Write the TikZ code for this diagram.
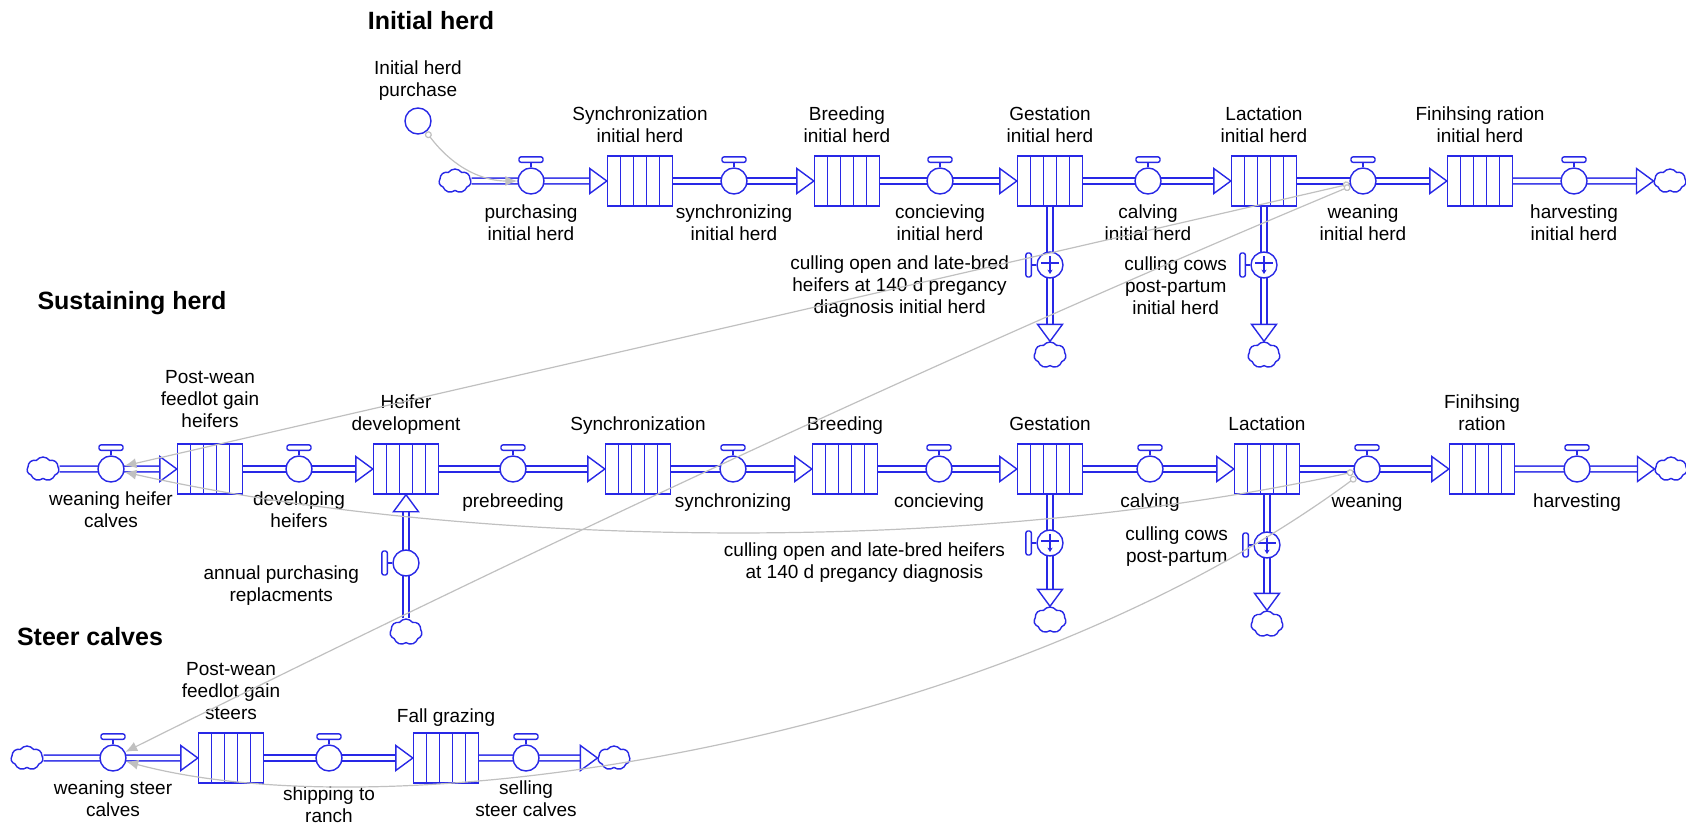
\documentclass[tikz,border=0pt]{standalone}
\usepackage{fontspec}
\setmainfont{Liberation Sans}
\usetikzlibrary{
  arrows.meta, % for the link arrow tips
  positioning, % for relative node positioning
  shapes.symbols, % for the cloud shape
}
\definecolor{flow-blue}{RGB}{40, 40, 230}
\definecolor{link-gray}{RGB}{192, 192, 192}

% hollow head of a flow pipe: anchor, rotation
\newcommand{\flowtip}[2]{%
  \draw[flow-blue, line width=0.7pt, fill=white, shift={(#1)}, rotate=#2]
    (0,0) -- (-17,12.5) -- (-17,-12.5) -- cycle;%
}
% flow pipe: from, to (anchor), rotation of the head
\newcommand{\flowpipe}[3]{%
  \draw[pipe] (#1) -- (#2);
  \flowtip{#2}{#3}%
}
% valve handles, above or left of a valve
\newcommand{\tophandle}[1]{%
  \draw[flow-blue, line width=0.7pt] (#1.north) -- ([yshift=2.5pt]#1.north);
  \draw[flow-blue, line width=0.7pt, fill=white, rounded corners=1pt]
    ([xshift=-6pt, yshift=2.5pt]#1.north) rectangle ([xshift=6pt, yshift=5.2pt]#1.north);%
}
\newcommand{\sidehandle}[1]{%
  \draw[flow-blue, line width=0.7pt] (#1.west) -- ([xshift=-2.5pt]#1.west);
  \draw[flow-blue, line width=0.7pt, fill=white, rounded corners=1pt]
    ([xshift=-5.2pt, yshift=-6pt]#1.west) rectangle ([xshift=-2.5pt, yshift=6pt]#1.west);%
}
% outflow mark inside a culling valve
\newcommand{\cullmark}[1]{%
  \draw[flow-blue, line width=0.6pt] ([xshift=-4.5pt, yshift=1pt]#1.center) -- ([xshift=4.5pt, yshift=1pt]#1.center);
  \draw[flow-blue, line width=0.6pt, -{Stealth[length=2.2pt, width=2.6pt]}] ([yshift=4.5pt]#1.center) -- ([yshift=-4.5pt]#1.center);%
}

\begin{document}
\begin{tikzpicture}[%
  x=0.5pt, y=-0.5pt,%
  font=\fontsize{9.5}{11}\selectfont,%
  stock/.style={draw=flow-blue, fill=white, line width=0.7pt, minimum width=32.5pt, minimum height=25pt, inner sep=0pt,%
    path picture={\foreach \k in {1,...,4} \draw[flow-blue, line width=0.7pt] ([xshift=\k*6.5pt]path picture bounding box.south west) -- ([xshift=\k*6.5pt]path picture bounding box.north west);}},%
  valve/.style={circle, draw=flow-blue, fill=white, line width=0.7pt, minimum size=13pt, inner sep=0pt},%
  aux/.style={circle, draw=flow-blue, line width=0.7pt, minimum size=13pt, inner sep=0pt},%
  source/.style={cloud, cloud puffs=7, cloud puff arc=110, aspect=1.4, draw=flow-blue, fill=white, line width=0.7pt, minimum width=16pt, minimum height=12pt, inner sep=0pt},%
  sink/.style={source, aspect=1.2, minimum width=16pt, minimum height=13pt},%
  pipe/.style={draw=flow-blue, line width=0.7pt, double=white, double distance=2.2pt, shorten >=6pt},%
  link/.style={draw=link-gray, line width=0.6pt, {Circle[fill=white, length=3.5pt, width=3.5pt]}-{Latex[length=6pt, width=5pt]}},%
  lbl/.style={align=center, inner sep=1pt, execute at begin node=\strut, execute at end node=\strut},%
  head/.style={font=\fontsize{12.5}{15}\selectfont\bfseries, inner sep=0pt},%
  ]
  \useasboundingbox (0,0) rectangle (1686,824);

  % initial herd
  \node[head] (hInit) at (431,21) {Initial herd};
  \node[aux] (cPurch) at (418,121) {};
  \node[source] (cSrcI) at (455,181) {};
  \node[stock] (sSyncI) at (640,181) {};
  \node[stock] (sBreedI) at (847,181) {};
  \node[stock] (sGestI) at (1050,181) {};
  \node[stock] (sLactI) at (1264,181) {};
  \node[stock] (sFinI) at (1480,181) {};
  \node[source] (cSinkI) at (1670,181) {};
  \node[sink] (cCullGI) at (1050,355) {};
  \node[sink] (cCullLI) at (1264,355) {};
  \flowpipe{cSrcI}{sSyncI.west}{0}
  \flowpipe{sSyncI}{sBreedI.west}{0}
  \flowpipe{sBreedI}{sGestI.west}{0}
  \flowpipe{sGestI}{sLactI.west}{0}
  \flowpipe{sLactI}{sFinI.west}{0}
  \flowpipe{sFinI}{cSinkI.west}{0}
  \flowpipe{sGestI}{cCullGI.north}{-90}
  \flowpipe{sLactI}{cCullLI.north}{-90}
  \node[valve] (vPurchI) at (531,181) {}; \tophandle{vPurchI}
  \node[valve] (vSyncI) at (734,181) {}; \tophandle{vSyncI}
  \node[valve] (vConcI) at (940,181) {}; \tophandle{vConcI}
  \node[valve] (vCalvI) at (1148,181) {}; \tophandle{vCalvI}
  \node[valve] (vWeanI) at (1363,181) {}; \tophandle{vWeanI}
  \node[valve] (vHarvI) at (1574,181) {}; \tophandle{vHarvI}
  \node[valve] (vCullGI) at (1050,265) {}; \sidehandle{vCullGI} \cullmark{vCullGI}
  \node[valve] (vCullLI) at (1264,265) {}; \sidehandle{vCullLI} \cullmark{vCullLI}
  \node[lbl, above=0.7pt of cPurch] (lPurch) {Initial herd\\purchase};
  \node[lbl, above=1.7pt of sSyncI] (lSyncI) {Synchronization\\initial herd};
  \node[lbl, above=1.7pt of sBreedI] (lBreedI) {Breeding\\initial herd};
  \node[lbl, above=1.7pt of sGestI] (lGestI) {Gestation\\initial herd};
  \node[lbl, above=1.7pt of sLactI] (lLactI) {Lactation\\initial herd};
  \node[lbl, above=1.7pt of sFinI] (lFinI) {Finihsing ration\\initial herd};
  \node[lbl, below=3.8pt of vPurchI] (lvPurchI) {purchasing\\initial herd};
  \node[lbl, below=3.8pt of vSyncI] (lvSyncI) {synchronizing\\initial herd};
  \node[lbl, below=3.8pt of vConcI] (lvConcI) {concieving\\initial herd};
  \node[lbl, below=3.8pt of vCalvI] (lvCalvI) {calving\\initial herd};
  \node[lbl, below=3.8pt of vWeanI] (lvWeanI) {weaning\\initial herd};
  \node[lbl, below=3.8pt of vHarvI] (lvHarvI) {harvesting\\initial herd};
  \node[lbl, left=12.5pt of vCullGI, yshift=-11.5pt] (lvCullGI) {culling open and late-bred\\heifers at 140 d pregancy\\diagnosis initial herd};
  \node[lbl, left=10.5pt of vCullLI, yshift=-12pt] (lvCullLI) {culling cows\\post-partum\\initial herd};

  % sustaining herd
  \node[head] (hSust) at (132,303) {Sustaining herd};
  \node[source] (cSrcM) at (43,469) {};
  \node[stock] (sPWH) at (210,469) {};
  \node[stock] (sHD) at (406,469) {};
  \node[stock] (sSync) at (638,469) {};
  \node[stock] (sBreed) at (845,469) {};
  \node[stock] (sGest) at (1050,469) {};
  \node[stock] (sLact) at (1267,469) {};
  \node[stock] (sFin) at (1482,469) {};
  \node[source] (cSinkM) at (1671,469) {};
  \node[sink] (cRepl) at (406,632) {};
  \node[sink] (cCullG) at (1050,620) {};
  \node[sink] (cCullL) at (1267,624) {};
  \flowpipe{cSrcM}{sPWH.west}{0}
  \flowpipe{sPWH}{sHD.west}{0}
  \flowpipe{sHD}{sSync.west}{0}
  \flowpipe{sSync}{sBreed.west}{0}
  \flowpipe{sBreed}{sGest.west}{0}
  \flowpipe{sGest}{sLact.west}{0}
  \flowpipe{sLact}{sFin.west}{0}
  \flowpipe{sFin}{cSinkM.west}{0}
  \flowpipe{cRepl}{sHD.south}{90}
  \flowpipe{sGest}{cCullG.north}{-90}
  \flowpipe{sLact}{cCullL.north}{-90}
  \node[valve] (vWeanHC) at (111,469) {}; \tophandle{vWeanHC}
  \node[valve] (vDev) at (299,469) {}; \tophandle{vDev}
  \node[valve] (vPre) at (513,469) {}; \tophandle{vPre}
  \node[valve] (vSync) at (733,469) {}; \tophandle{vSync}
  \node[valve] (vConc) at (939,469) {}; \tophandle{vConc}
  \node[valve] (vCalv) at (1150,469) {}; \tophandle{vCalv}
  \node[valve] (vWean) at (1367,469) {}; \tophandle{vWean}
  \node[valve] (vHarv) at (1577,469) {}; \tophandle{vHarv}
  \node[valve] (vRepl) at (406,563) {}; \sidehandle{vRepl}
  \node[valve] (vCullG) at (1050,543) {}; \sidehandle{vCullG} \cullmark{vCullG}
  \node[valve] (vCullL) at (1267,545) {}; \sidehandle{vCullL} \cullmark{vCullL}
  \node[lbl, above=3.5pt of sPWH] (lPWH) {Post-wean\\feedlot gain\\heifers};
  \node[lbl, above=1.7pt of sHD] (lHD) {Heifer\\development};
  \node[lbl, above=1.7pt of sSync] (lSync) {Synchronization};
  \node[lbl, above=1.7pt of sBreed] (lBreed) {Breeding};
  \node[lbl, above=1.7pt of sGest] (lGest) {Gestation};
  \node[lbl, above=1.7pt of sLact] (lLact) {Lactation};
  \node[lbl, above=1.7pt of sFin] (lFin) {Finihsing\\ration};
  \node[lbl, below=3.5pt of vWeanHC] (lvWeanHC) {weaning heifer\\calves};
  \node[lbl, below=3.5pt of vDev] (lvDev) {developing\\heifers};
  \node[lbl, below=3.5pt of vPre] (lvPre) {prebreeding};
  \node[lbl, below=3.5pt of vSync] (lvSync) {synchronizing};
  \node[lbl, below=3.5pt of vConc] (lvConc) {concieving};
  \node[lbl, below=3.5pt of vCalv] (lvCalv) {calving};
  \node[lbl, below=3.5pt of vWean] (lvWean) {weaning};
  \node[lbl, below=3.5pt of vHarv] (lvHarv) {harvesting};
  \node[lbl, left=15.5pt of vRepl, yshift=-12pt] (lvRepl) {annual purchasing\\replacments};
  \node[lbl, left=14.5pt of vCullG, yshift=-10.5pt] (lvCullG) {culling open and late-bred heifers\\at 140 d pregancy diagnosis};
  \node[lbl, left=11.5pt of vCullL, yshift=-1.5pt] (lvCullL) {culling cows\\post-partum};

  % steer calves
  \node[head] (hSteer) at (90,637) {Steer calves};
  \node[source] (cSrcS) at (27,758) {};
  \node[stock] (sPWS) at (231,758) {};
  \node[stock] (sFall) at (446,758) {};
  \node[source] (cSinkS) at (614,758) {};
  \flowpipe{cSrcS}{sPWS.west}{0}
  \flowpipe{sPWS}{sFall.west}{0}
  \flowpipe{sFall}{cSinkS.west}{0}
  \node[valve] (vWeanSC) at (113,758) {}; \tophandle{vWeanSC}
  \node[valve] (vShip) at (329,758) {}; \tophandle{vShip}
  \node[valve] (vSell) at (526,758) {}; \tophandle{vSell}
  \node[lbl, above=1.7pt of sPWS] (lPWS) {Post-wean\\feedlot gain\\steers};
  \node[lbl, above=0.5pt of sFall] (lFall) {Fall grazing};
  \node[lbl, below=3.2pt of vWeanSC] (lvWeanSC) {weaning steer\\calves};
  \node[lbl, below=6.5pt of vShip] (lvShip) {shipping to\\ranch};
  \node[lbl, below=3.2pt of vSell] (lvSell) {selling\\steer calves};

  % information links
  \draw[link] (cPurch) .. controls (455,170) and (485,181) .. (vPurchI);
  \draw[link] (vWeanI) -- (vWeanHC);
  \draw[link] (vWeanI) .. controls (935,360) and (531,550) .. (vWeanSC);
  \draw[link] (vWean) .. controls (950,560) and (450,545) .. (vWeanHC);
  \draw[link] (vWean) .. controls (1000,740) and (400,835) .. (vWeanSC);
\end{tikzpicture}
\end{document}
